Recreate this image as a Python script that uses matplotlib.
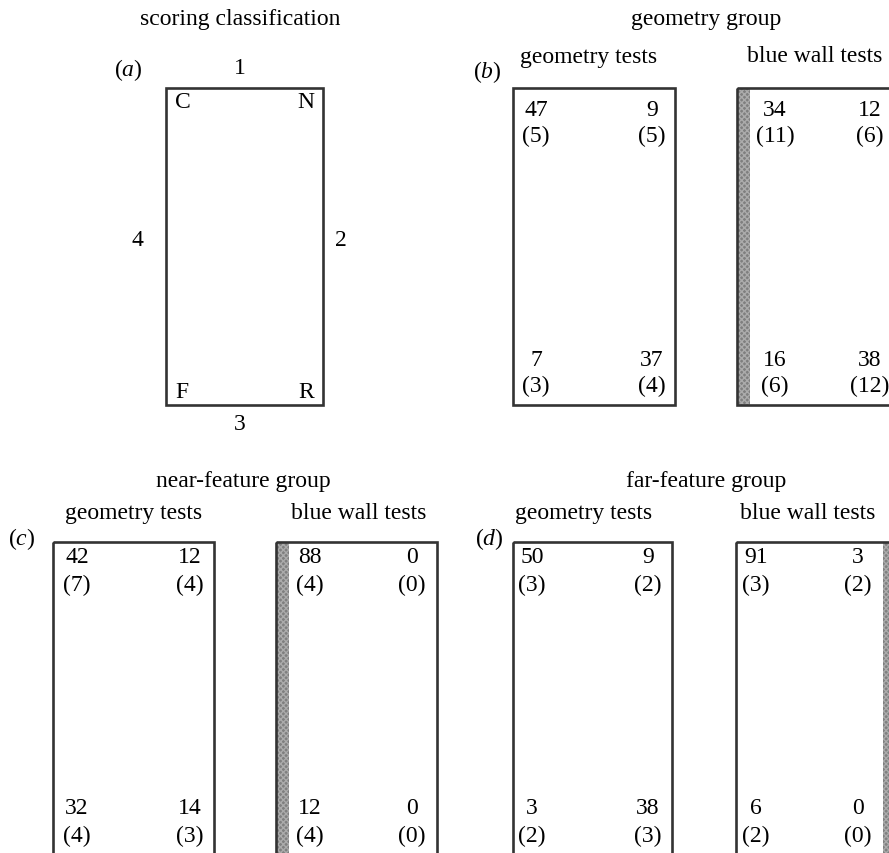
import matplotlib.pyplot as plt
from matplotlib.patches import Rectangle

plt.rcParams['font.family'] = ['Liberation Serif', 'DejaVu Serif']
plt.rcParams['mathtext.fontset'] = 'custom'
plt.rcParams['mathtext.rm'] = 'Liberation Serif'
plt.rcParams['mathtext.it'] = 'Liberation Serif:italic'

# corner counts: top-left, top-right, bottom-left, bottom-right
# (number in brackets underneath)
b_geom = [47, 9, 7, 37]
b_geom_n = [5, 5, 3, 4]
b_blue = [34, 12, 16, 38]
b_blue_n = [11, 6, 6, 12]
c_geom = [42, 12, 32, 14]
c_geom_n = [7, 4, 4, 3]
c_blue = [88, 0, 12, 0]
c_blue_n = [4, 0, 4, 0]
d_geom = [50, 9, 3, 38]
d_geom_n = [3, 2, 2, 3]
d_blue = [91, 3, 6, 0]
d_blue_n = [3, 2, 2, 0]

corners = ['C', 'N', 'F', 'R']
walls = ['1', '2', '3', '4']
groups = ['scoring classification', 'geometry group', 'near-feature group', 'far-feature group']
tests = ['geometry tests', 'blue wall tests']
panels = ['a', 'b', 'c', 'd']

fs = 17
fig = plt.figure(figsize=(8.89, 8.54), dpi=100)
ax = fig.add_axes([0, 0, 1, 1])
ax.set_xlim(0, 889)
ax.set_ylim(854, 0)
ax.axis('off')


def box(x0, x1, y0, y1, stripe=None):
    sw = 13
    if stripe == 'left':
        ax.add_patch(Rectangle((x0, y0), sw, y1 - y0, fc='#7f7f7f', ec='#ababab', hatch='xxxxxx', lw=0))
    if stripe == 'right':
        ax.add_patch(Rectangle((x1 - sw, y0), sw, y1 - y0, fc='#7f7f7f', ec='#ababab', hatch='xxxxxx', lw=0))
    ax.add_patch(Rectangle((x0, y0), x1 - x0, y1 - y0, fill=False, ec='#333333', lw=1.9))


def counts(vals, n, xl, xr, yt, yb, gap):
    for v, m, x, y in zip(vals, n, [xl, xr, xl, xr], [yt, yt, yb, yb]):
        ax.text(x, y, str(v), ha='center', va='center', fontsize=fs)
        ax.text(x, y + gap, '(%d)' % m, ha='center', va='center', fontsize=fs)


def label(x, y, s):
    ax.text(x, y, s, ha='center', va='center', fontsize=fs)


def panel(x, y, p):
    label(x, y, '($%s$)' % p)


# (a) scoring classification
label(240, 20, groups[0])
box(166, 323, 89, 406)
label(240, 68, walls[0])
label(341, 240, walls[1])
label(240, 425, walls[2])
label(137, 240, walls[3])
panel(128, 70, panels[0])
for s, x, y, h in zip(corners, [175, 314, 175, 314], [102, 102, 393, 393], ['left', 'right', 'left', 'right']):
    ax.text(x, y, s, ha=h, va='center', fontsize=fs)

# (b) geometry group
label(706, 20, groups[1])
label(589, 57, tests[0])
label(815, 57, tests[1])
panel(487, 72, panels[1])
box(513, 675, 89, 406)
counts(b_geom, b_geom_n, 536, 652, 111, 361, 25)
box(737, 900, 89, 406, stripe='left')
counts(b_blue, b_blue_n, 775, 870, 111, 361, 25)

# (c) near-feature group
label(243, 482, groups[2])
label(134, 514, tests[0])
label(359, 514, tests[1])
panel(22, 539, panels[2])
box(53, 214, 543, 880)
counts(c_geom, c_geom_n, 77, 190, 558, 809, 27)
box(276, 437, 543, 880, stripe='left')
counts(c_blue, c_blue_n, 310, 412, 558, 809, 27)

# (d) far-feature group
label(706, 482, groups[3])
label(584, 514, tests[0])
label(808, 514, tests[1])
panel(489, 539, panels[3])
box(513, 672, 543, 880)
counts(d_geom, d_geom_n, 532, 648, 558, 809, 27)
box(736, 896, 543, 880, stripe='right')
counts(d_blue, d_blue_n, 756, 858, 558, 809, 27)

fig.savefig('out.png', dpi=100)
